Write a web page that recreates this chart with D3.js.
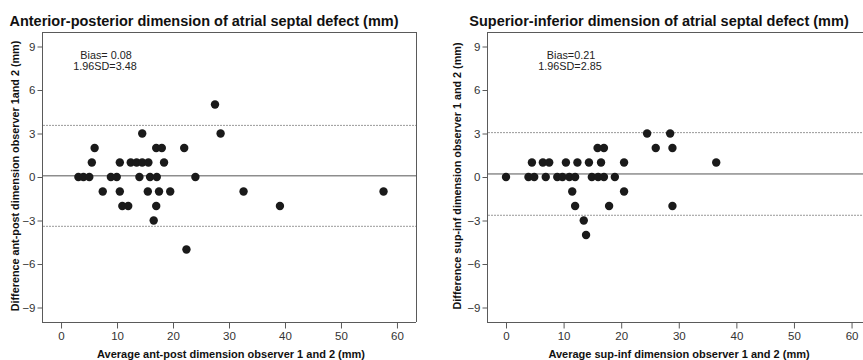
<!DOCTYPE html>
<html>
<head>
<meta charset="utf-8">
<script src="https://cdn.jsdelivr.net/npm/d3@7"></script>
<style>
  html, body { margin: 0; padding: 0; background: #fff; }
  svg { display: block; }
  text { font-family: "Liberation Sans", Arial, sans-serif; }
</style>
</head>
<body>
<svg id="chart" width="863" height="360"></svg>
<script>
// ---- Data ----
const xTicks = [0, 10, 20, 30, 40, 50, 60];
const yTicks = [9, 6, 3, 0, -3, -6, -9];

// Left panel: anterior-posterior (average, difference)
const apAverage = [3.1, 4.0, 5.05, 8.9, 9.95, 14.0, 15.9, 17.1, 24.0,
                   5.5, 10.5, 12.45, 13.5, 14.5, 15.6, 18.4,
                   6.0, 17.0, 18.0, 22.0,
                   14.5, 28.5,
                   27.5,
                   7.45, 10.5, 15.5, 17.5, 19.5, 32.6, 57.6,
                   10.95, 12.0, 17.0, 39.1,
                   16.55,
                   22.4];
const apDifference = [0, 0, 0, 0, 0, 0, 0, 0, 0,
                      1, 1, 1, 1, 1, 1, 1,
                      2, 2, 2, 2,
                      3, 3,
                      5,
                      -1, -1, -1, -1, -1, -1, -1,
                      -2, -2, -2, -2,
                      -3,
                      -5];
const apBias = 0.08, apSD = 3.48;

// Right panel: superior-inferior (average, difference)
const siAverage = [0, 3.9, 4.9, 6.9, 8.9, 9.8, 11.0, 12.0, 14.9, 16.0, 17.0, 18.9,
                   4.5, 6.4, 7.5, 10.4, 12.4, 14.4, 16.5, 20.5, 36.5,
                   15.9, 17.0, 26.0, 28.9,
                   24.5, 28.5,
                   11.5, 20.5,
                   12.0, 17.9, 28.9,
                   13.5,
                   13.9];
const siDifference = [0, 0, 0, 0, 0, 0, 0, 0, 0, 0, 0, 0,
                      1, 1, 1, 1, 1, 1, 1, 1, 1,
                      2, 2, 2, 2,
                      3, 3,
                      -1, -1,
                      -2, -2, -2,
                      -3,
                      -4];
const siBias = 0.21, siSD = 2.85;

const titles = ["Anterior-posterior dimension of atrial septal defect (mm)",
                "Superior-inferior dimension of atrial septal defect (mm)"];
const xTitles = ["Average ant-post dimension observer 1 and 2 (mm)",
                 "Average sup-inf dimension observer 1 and 2 (mm)"];
const yTitles = ["Difference ant-post dimension observer 1and 2 (mm)",
                 "Difference sup-inf dimension observer 1 and 2 (mm)"];
const biasLabels = [["Bias= 0.08", "1.96SD=3.48"], ["Bias=0.21", "1.96SD=2.85"]];

// ---- Drawing ----
const svg = d3.select("#chart");
const frameColor = "#5a5a5a";

const panels = [
  { x0: 42, x1: 416, xDom: [-3.4, 63.4], avg: apAverage, diff: apDifference, bias: apBias, sd: apSD,
    titleX: 204, ytX: 16, noteX: 105, xtX: 231, closed: true },
  { x0: 487, x1: 872, xDom: [-3.3, 63.55], avg: siAverage, diff: siDifference, bias: siBias, sd: siSD,
    titleX: 659, ytX: 458, noteX: 570, xtX: 679, closed: false }
];
const yTop = 32, yBot = 322;

panels.forEach((p, i) => {
  const g = svg.append("g");
  const x = d3.scaleLinear().domain(p.xDom).range([p.x0, p.x1]);
  const y = d3.scaleLinear().domain([-10, 10]).range([yBot, yTop]);

  // title
  g.append("text").attr("x", p.titleX).attr("y", 26)
    .attr("text-anchor", "middle").attr("font-weight", "bold").attr("font-size", 14.5)
    .attr("fill", "#111").text(titles[i]);

  // frame
  const fr = g.append("g").attr("stroke", frameColor).attr("stroke-width", 1).attr("fill", "none");
  fr.append("line").attr("x1", p.x0).attr("x2", p.x1).attr("y1", yTop + 0.5).attr("y2", yTop + 0.5);
  fr.append("line").attr("x1", p.x0 + 0.5).attr("x2", p.x0 + 0.5).attr("y1", yTop).attr("y2", yBot);
  fr.append("line").attr("x1", p.x0).attr("x2", p.x1).attr("y1", yBot + 0.5).attr("y2", yBot + 0.5);
  if (p.closed) fr.append("line").attr("x1", p.x1 + 0.5).attr("x2", p.x1 + 0.5).attr("y1", yTop).attr("y2", yBot);

  // axes
  const xAxis = d3.axisBottom(x).tickValues(xTicks).tickSize(6).tickPadding(3).tickFormat(d3.format("d"));
  const gx = g.append("g").attr("transform", `translate(0,${yBot + 0.5})`).call(xAxis);
  const yAxis = d3.axisLeft(y).tickValues(yTicks).tickSize(5).tickPadding(2).tickFormat(d3.format("d"));
  const gy = g.append("g").attr("transform", `translate(${p.x0 + 0.5},0)`).call(yAxis);
  [gx, gy].forEach(a => {
    a.select(".domain").remove();
    a.selectAll(".tick line").attr("stroke", frameColor);
    a.selectAll(".tick text").attr("fill", "#333").attr("font-size", 11.5)
      .attr("font-family", "Liberation Sans, Arial, sans-serif");
  });

  // reference lines
  const lines = g.append("g");
  lines.append("line").attr("x1", p.x0 + 1).attr("x2", p.x1).attr("y1", y(p.bias)).attr("y2", y(p.bias))
    .attr("stroke", "#555").attr("stroke-width", 1);
  [p.bias + p.sd, p.bias - p.sd].forEach(v => {
    lines.append("line").attr("x1", p.x0 + 1).attr("x2", p.x1).attr("y1", y(v)).attr("y2", y(v))
      .attr("stroke", "#999").attr("stroke-width", 1).attr("stroke-dasharray", "2,1");
  });

  // points
  g.append("g").selectAll("circle").data(p.avg.map((a, k) => [a, p.diff[k]])).join("circle")
    .attr("cx", d => x(d[0])).attr("cy", d => y(d[1])).attr("r", 4.2).attr("fill", "#1a1a1a");

  // bias note
  const note = g.append("text").attr("text-anchor", "middle").attr("font-size", 10.8).attr("fill", "#222");
  note.append("tspan").attr("x", p.noteX + 1).attr("y", 59).text(biasLabels[i][0]);
  note.append("tspan").attr("x", p.noteX).attr("y", 70).text(biasLabels[i][1]);

  // axis titles
  g.append("text").attr("x", p.xtX).attr("y", 358)
    .attr("text-anchor", "middle").attr("font-weight", "bold").attr("font-size", 11)
    .attr("fill", "#111").text(xTitles[i]);
  g.append("text").attr("transform", `translate(${p.ytX},176) rotate(-90)`)
    .attr("text-anchor", "middle").attr("dominant-baseline", "middle")
    .attr("font-weight", "bold").attr("font-size", 10.8).attr("fill", "#111").text(yTitles[i]);
});
</script>
</body>
</html>
